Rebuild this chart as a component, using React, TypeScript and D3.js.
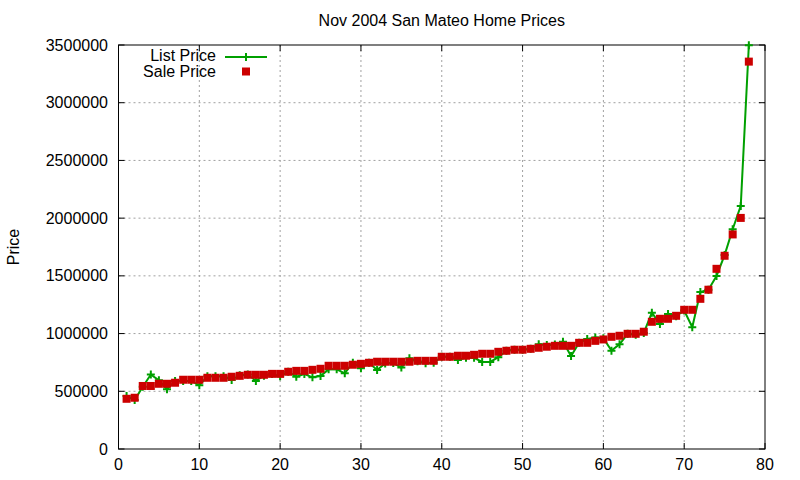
import React from "react";
import * as d3 from "d3";

const xIndex: number[] = Array.from({ length: 78 }, (_, i) => i + 1);

const listPrice: number[] = [
  459000, 425000, 540000, 645000, 595000, 517000, 590000, 590000, 590000, 552000,
  630000, 630000, 630000, 598000, 640000, 645000, 590000, 635000, 650000, 630000,
  669000, 627000, 650000, 621000, 633000, 690000, 690000, 656000, 748000, 700000,
  747000, 684000, 740000, 745000, 705000, 786000, 760000, 743000, 748000, 799000,
  799000, 771000, 790000, 790000, 754000, 754000, 795000, 851000, 860000, 860000,
  868000, 907000, 900000, 905000, 930000, 806000, 920000, 953000, 965000, 960000,
  852000, 907000, 998000, 990000, 1005000, 1181000, 1083000, 1170000, 1150000, 1200000,
  1055000, 1360000, 1380000, 1499000, 1680000, 1904000, 2106000, 3498000,
];

const salePrice: number[] = [
  435000, 444000, 546000, 546000, 565000, 565000, 574000, 600000, 600000, 600000,
  617000, 617000, 617000, 626000, 634000, 643000, 643000, 643000, 651000, 651000,
  669000, 677000, 677000, 686000, 695000, 721000, 721000, 721000, 730000, 738000,
  747000, 756000, 756000, 756000, 756000, 756000, 764000, 764000, 764000, 799000,
  799000, 808000, 808000, 816000, 825000, 825000, 842000, 851000, 860000, 860000,
  868000, 877000, 886000, 894000, 894000, 894000, 920000, 920000, 937000, 949000,
  972000, 981000, 998000, 998000, 1016000, 1102000, 1128000, 1128000, 1154000, 1206000,
  1206000, 1301000, 1380000, 1561000, 1674000, 1859000, 2002000, 3356000,
];

const xTicks: number[] = [0, 10, 20, 30, 40, 50, 60, 70, 80];
const yTicks: number[] = [0, 500000, 1000000, 1500000, 2000000, 2500000, 3000000, 3500000];

const title = "Nov 2004 San Mateo Home Prices";
const yLabel = "Price";
const seriesNames = ["List Price", "Sale Price"];

const GREEN = "#00a000";
const RED = "#cc0000";
const FONT = "'Liberation Sans', Arial, sans-serif";

export default function App() {
  const left = 118.5, right = 765, top = 45, bottom = 449;
  const x = d3.scaleLinear().domain([0, 80]).range([left, right]);
  const y = d3.scaleLinear().domain([0, 3500000]).range([bottom, top]);
  const line = d3
    .line<number>()
    .x((_, i) => x(xIndex[i]))
    .y((d) => y(d));
  const tick = 6;
  const plus = (cx: number, cy: number, k: string | number) => (
    <path key={k} d={`M${cx - 4},${cy}H${cx + 4}M${cx},${cy - 4}V${cy + 4}`} stroke={GREEN} strokeWidth={2} fill="none" />
  );

  return (
    <svg width={800} height={480} style={{ position: "absolute", left: 0, top: 0, background: "#fff" }} fontFamily={FONT}>
      <rect x={0} y={0} width={800} height={480} fill="#fff" />
      {/* grid */}
      {xTicks.slice(1, -1).map((t) => (
        <line key={"gx" + t} x1={x(t)} x2={x(t)} y1={top} y2={bottom} stroke="#a0a0a0" strokeDasharray="2,3" strokeWidth={1} />
      ))}
      {yTicks.slice(1, -1).map((t) => (
        <line key={"gy" + t} x1={left} x2={right} y1={y(t)} y2={y(t)} stroke="#a0a0a0" strokeDasharray="2,3" strokeWidth={1} />
      ))}
      {/* ticks */}
      {xTicks.map((t) => (
        <g key={"tx" + t}>
          <line x1={x(t)} x2={x(t)} y1={bottom} y2={bottom - tick} stroke="#000" />
          <line x1={x(t)} x2={x(t)} y1={top} y2={top + tick} stroke="#000" />
          <text x={x(t)} y={464} fontSize={16} textAnchor="middle" dominantBaseline="central">{t}</text>
        </g>
      ))}
      {yTicks.map((t) => (
        <g key={"ty" + t}>
          <line x1={left} x2={left + tick} y1={y(t)} y2={y(t)} stroke="#000" />
          <line x1={right} x2={right - tick} y1={y(t)} y2={y(t)} stroke="#000" />
          <text x={108} y={y(t)} fontSize={16} textAnchor="end" dominantBaseline="central">{t}</text>
        </g>
      ))}
      <rect x={left} y={top} width={right - left} height={bottom - top} fill="none" stroke="#000" strokeWidth={1} />
      {/* list price */}
      <path d={line(listPrice) || ""} fill="none" stroke={GREEN} strokeWidth={2} />
      {listPrice.map((v, i) => plus(x(xIndex[i]), y(v), "p" + i))}
      {/* sale price */}
      {salePrice.map((v, i) => (
        <rect key={"s" + i} x={x(xIndex[i]) - 4} y={y(v) - 4} width={8} height={8} fill={RED} />
      ))}
      {/* title and labels */}
      <text x={(left + right) / 2} y={20} fontSize={16} textAnchor="middle" dominantBaseline="central">{title}</text>
      <text x={0} y={0} fontSize={16} textAnchor="middle" dominantBaseline="central" transform={`translate(13,${(top + bottom) / 2}) rotate(-90)`}>{yLabel}</text>
      {/* legend */}
      <text x={216} y={55} fontSize={16} textAnchor="end" dominantBaseline="central">{seriesNames[0]}</text>
      <line x1={225} x2={267} y1={57} y2={57} stroke={GREEN} strokeWidth={2} />
      {plus(246, 57, "legplus")}
      <text x={216} y={71} fontSize={16} textAnchor="end" dominantBaseline="central">{seriesNames[1]}</text>
      <rect x={242} y={67.5} width={8} height={8} fill={RED} />
    </svg>
  );
}
